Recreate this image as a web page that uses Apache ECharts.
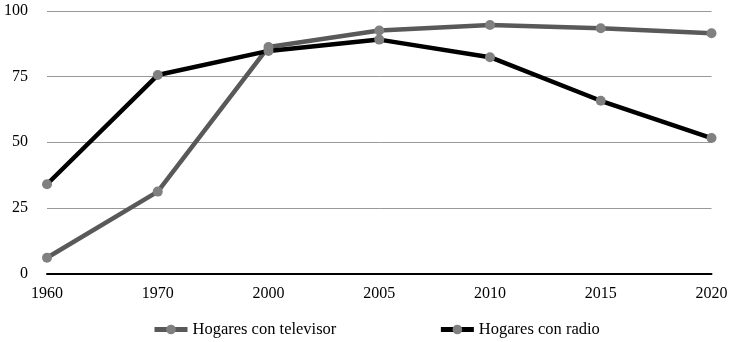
<!DOCTYPE html>
<html>
<head>
<meta charset="utf-8">
<script src="https://cdn.jsdelivr.net/npm/echarts@6/dist/echarts.min.js"></script>
<style>html,body{margin:0;padding:0;background:#fff}#c{width:735px;height:342px}</style>
</head>
<body>
<div id="c"></div>
<script>
const years = ['1960','1970','2000','2005','2010','2015','2020'];
const tvName = 'Hogares con televisor';
const radioName = 'Hogares con radio';
const tvValues = [6.0, 31.2, 86.3, 92.6, 94.7, 93.4, 91.5];
const radioValues = [34.0, 75.6, 84.8, 89.1, 82.4, 65.8, 51.6];
const yTicks = [0, 25, 50, 75, 100];

const font = 'Liberation Serif, Times New Roman, serif';
const chart = echarts.init(document.getElementById('c'));
function mk(name, data, color) {
  return {
    name, type: 'line', data,
    symbol: 'circle', symbolSize: 10,
    lineStyle: { color, width: 4.5 },
    itemStyle: { color: '#808080' },
    emphasis: { disabled: true },
    animation: false
  };
}
chart.setOption({
  animation: false,
  textStyle: { fontFamily: font },
  grid: { left: 47, right: 23.5, top: 11, bottom: 68.5 },
  legend: {
    left: 147, top: 316, itemGap: 102, itemWidth: 33, itemHeight: 12,
    lineStyle: { width: 5 },
    textStyle: { fontFamily: font, fontSize: 16.5, color: '#000' },
    data: [tvName, radioName]
  },
  xAxis: {
    type: 'category', data: years, boundaryGap: false,
    axisLine: { lineStyle: { color: '#000', width: 2 } },
    axisTick: { show: false },
    axisLabel: { color: '#000', fontSize: 16, fontFamily: font, margin: 12 },
    splitLine: { show: false }
  },
  yAxis: {
    type: 'value', min: yTicks[0], max: yTicks[yTicks.length - 1], interval: 25,
    axisLine: { show: false }, axisTick: { show: false },
    axisLabel: { color: '#000', fontSize: 16, fontFamily: font, margin: 19 },
    splitLine: { lineStyle: { color: '#999', width: 1 } }
  },
  series: [mk(tvName, tvValues, '#595959'), mk(radioName, radioValues, '#000')]
});
</script>
</body>
</html>
